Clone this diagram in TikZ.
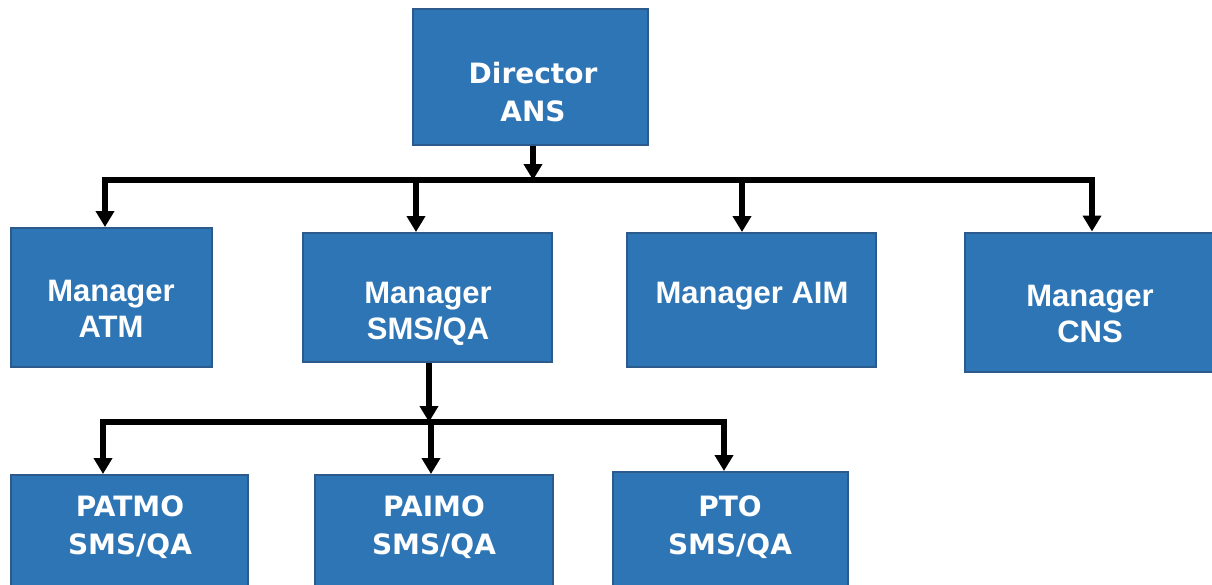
\documentclass[tikz,border=0pt]{standalone}
\usepackage{fontspec}
\usetikzlibrary{arrows.meta}
\newfontfamily\verdfont{DejaVu Sans}
\newfontfamily\arialfont{Liberation Sans}
\definecolor{boxfill}{HTML}{2E75B6}
\definecolor{boxline}{HTML}{2C5A8C}
\tikzset{
  orgbox/.style={draw=boxline, line width=2pt, fill=boxfill, inner sep=0pt},
  vlbl/.style={text=white, align=center, inner sep=0pt,
    font=\verdfont\bfseries\fontsize{28}{38}\selectfont},
  albl/.style={text=white, align=center, inner sep=0pt,
    font=\arialfont\bfseries\fontsize{31}{35.5}\selectfont},
  arr/.style={line width=5.5pt, line join=miter, -{Triangle[width=18pt,length=16pt]}},
}
\begin{document}
\begin{tikzpicture}[x=1pt,y=-1pt]
\useasboundingbox (0,0) rectangle (1212,584);
% boxes
\node[orgbox, minimum width=235pt, minimum height=136pt] (dir) at (530.5,77) {};
\node[orgbox, minimum width=201pt, minimum height=139pt] (atm) at (111.5,297.5) {};
\node[orgbox, minimum width=249pt, minimum height=129pt] (smsqa) at (427.5,297.5) {};
\node[orgbox, minimum width=249pt, minimum height=134pt] (aim) at (751.5,300) {};
\node[orgbox, minimum width=252pt, minimum height=139pt] (cns) at (1091,302) {};
\node[orgbox, minimum width=237pt, minimum height=130pt] (patmo) at (129.5,540) {};
\node[orgbox, minimum width=238pt, minimum height=130pt] (paimo) at (434,540) {};
\node[orgbox, minimum width=235pt, minimum height=130pt] (pto) at (730.5,537) {};
% labels
\node[vlbl] (tdir) at (533,92) {Director\\ANS};
\node[albl] (tatm) at (111,309) {Manager\\ATM};
\node[albl] (tsms) at (428,314) {Manager\\SMS/QA};
\node[albl] (taim) at (752,296) {Manager AIM};
\node[albl] (tcns) at (1090,314) {Manager\\CNS};
\node[vlbl] (tpatmo) at (130,527.5) {PATMO\\SMS/QA};
\node[vlbl] (tpaimo) at (434,527.5) {PAIMO\\SMS/QA};
\node[vlbl] (tpto) at (730,527) {PTO\\SMS/QA};
% top bus
\coordinate (j0) at (533,180);
\coordinate (j1) at (105,180);
\coordinate (j2) at (416,180);
\coordinate (j3) at (742,180);
\coordinate (j4) at (1092,180);
\draw[arr] (dir.south -| j0) -- (j0);
\draw[arr] (j0) -- (j1) -- (j1 |- atm.north);
\draw[arr] (j0) -- (j4) -- (j4 |- cns.north);
\draw[arr] (j2) -- (j2 |- smsqa.north);
\draw[arr] (j3) -- (j3 |- aim.north);
% lower bus
\coordinate (k0) at (429,422);
\coordinate (k1) at (103,422);
\coordinate (k2) at (431,422);
\coordinate (k3) at (724,422);
\draw[arr] (smsqa.south -| k0) -- (k0);
\draw[arr] (k0) -- (k1) -- (k1 |- patmo.north);
\draw[arr] (k0) -- (k3) -- (k3 |- pto.north);
\draw[arr] (k2) -- (k2 |- paimo.north);
\end{tikzpicture}
\end{document}
